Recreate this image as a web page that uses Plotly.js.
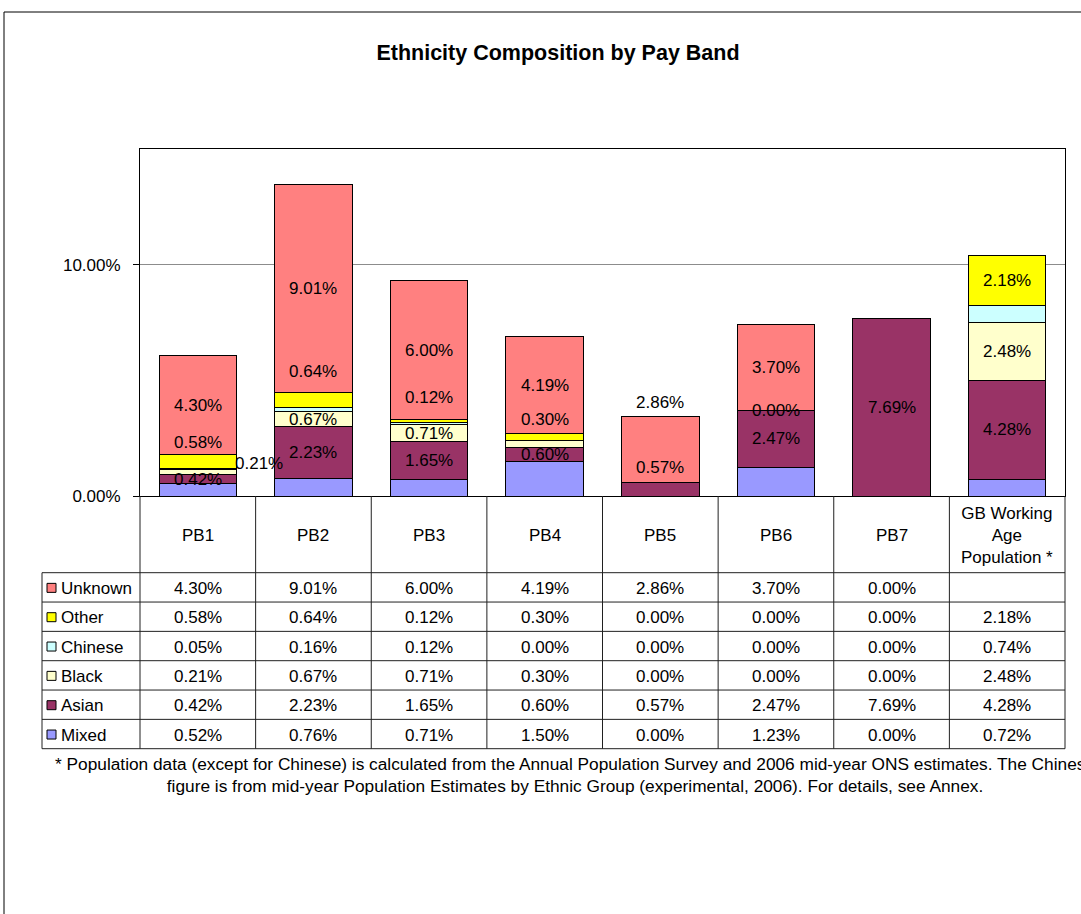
<!DOCTYPE html>
<html>
<head>
<meta charset="utf-8">
<script src="https://cdn.plot.ly/plotly-3.0.1.min.js"></script>
<style>html,body{margin:0;padding:0;background:#fff}</style>
</head>
<body>
<div id="chart" style="width:1081px;height:914px"></div>
<script>
// ---- data ----
const categories = ['PB1', 'PB2', 'PB3', 'PB4', 'PB5', 'PB6', 'PB7', 'GB Working Age Population *'];
const headerLabels = ['PB1', 'PB2', 'PB3', 'PB4', 'PB5', 'PB6', 'PB7', 'GB Working<br>Age<br>Population *'];
const unknown = [0.0430, 0.0901, 0.0600, 0.0419, 0.0286, 0.0370, 0.0000, null];
const other   = [0.0058, 0.0064, 0.0012, 0.0030, 0.0000, 0.0000, 0.0000, 0.0218];
const chinese = [0.0005, 0.0016, 0.0012, 0.0000, 0.0000, 0.0000, 0.0000, 0.0074];
const black   = [0.0021, 0.0067, 0.0071, 0.0030, 0.0000, 0.0000, 0.0000, 0.0248];
const asian   = [0.0042, 0.0223, 0.0165, 0.0060, 0.0057, 0.0247, 0.0769, 0.0428];
const mixed   = [0.0052, 0.0076, 0.0071, 0.0150, 0.0000, 0.0123, 0.0000, 0.0072];
const titleText = 'Ethnicity Composition by Pay Band';
const footnote = '* Population data (except for Chinese) is calculated from the Annual Population Survey and 2006 mid-year ONS estimates. The Chinese<br>figure is from mid-year Population Estimates by Ethnic Group (experimental, 2006). For details, see Annex.';

// stacking order, bottom to top
const series = [
  {name: 'Mixed',   values: mixed,   color: '#9999FF'},
  {name: 'Asian',   values: asian,   color: '#993366'},
  {name: 'Black',   values: black,   color: '#FFFFCC'},
  {name: 'Chinese', values: chinese, color: '#CCFFFF'},
  {name: 'Other',   values: other,   color: '#FFFF00'},
  {name: 'Unknown', values: unknown, color: '#FF8080'}
];

// ---- geometry (pixels) ----
const W = 1081, H = 914;
const L = 140, R = 1065, T = 149, B = 496;
const px2x = p => (p - L) / (R - L);
const px2y = p => (B - p) / (B - T);
const FONT = 'Arial, "Liberation Sans", sans-serif';
const FS = 17;
const rowTop = 572.7, rowBottom = 748.7, tableLeft = 42;
const nRows = series.length;
const rowH = (rowBottom - rowTop) / nRows;

// data labels: which series carry labels, and nudges where labels avoid each other
const labelledSeries = ['Unknown', 'Other', 'Black', 'Asian'];
const forcedLabels = ['Other|PB6'];
const hiddenLabels = ['Black|PB4'];
const nudges = {
  'Other|PB1': [0, 19], 'Black|PB1': [61, 8], 'Other|PB2': [0, 29],
  'Other|PB3': [0, 23], 'Other|PB4': [0, 18], 'Unknown|PB5': [0, 47], 'Asian|PB5': [0, 22]
};

const pct = v => (v * 100).toFixed(2) + '%';

const traces = series.map(s => ({
  type: 'bar',
  name: s.name,
  x: categories,
  y: s.values,
  marker: {color: s.color, line: {color: '#000', width: 1}},
  hoverinfo: 'skip',
  showlegend: false
}));

const annotations = [];
const shapes = [];

// segment labels
const base = categories.map(() => 0);
series.forEach(s => {
  s.values.forEach((v, i) => {
    const key = s.name + '|' + categories[i];
    const val = v == null ? 0 : v;
    const show = v != null && labelledSeries.includes(s.name) &&
      ((val > 0 && !hiddenLabels.includes(key)) || forcedLabels.includes(key));
    if (show) {
      const n = nudges[key] || [0, 0];
      annotations.push({
        xref: 'x', yref: 'y', x: categories[i], y: base[i] + val / 2,
        text: pct(val), showarrow: false, xshift: n[0], yshift: n[1],
        font: {family: FONT, size: FS, color: '#000'}
      });
    }
    base[i] += val;
  });
});

// data table: header row with category names
categories.forEach((c, i) => {
  annotations.push({
    xref: 'x', yref: 'paper', x: c, y: px2y((B + rowTop) / 2 + 1),
    text: headerLabels[i], showarrow: false, yanchor: 'middle',
    font: {family: FONT, size: FS, color: '#000'}
  });
});

// data table: one row per series, top row is the top of the stack
const tableSeries = series.slice().reverse();
tableSeries.forEach((s, r) => {
  const cy = rowTop + rowH * (r + 0.5);
  // legend key
  shapes.push({
    type: 'rect', xref: 'paper', yref: 'paper',
    x0: px2x(47), x1: px2x(56), y0: px2y(cy - 4), y1: px2y(cy + 5),
    fillcolor: s.color, line: {color: '#000', width: 1}
  });
  annotations.push({
    xref: 'paper', yref: 'paper', x: px2x(59), y: px2y(cy + 1),
    xanchor: 'left', yanchor: 'middle', text: s.name, showarrow: false,
    font: {family: FONT, size: FS, color: '#000'}
  });
  s.values.forEach((v, i) => {
    if (v == null) return;
    annotations.push({
      xref: 'x', yref: 'paper', x: categories[i], y: px2y(cy + 1),
      yanchor: 'middle', text: pct(v), showarrow: false,
      font: {family: FONT, size: FS, color: '#000'}
    });
  });
});

// table grid
const gridLine = {color: '#202020', width: 1};
for (let k = 0; k <= categories.length; k++) {
  shapes.push({type: 'line', xref: 'paper', yref: 'paper',
    x0: k / categories.length, x1: k / categories.length,
    y0: px2y(B), y1: px2y(rowBottom), line: gridLine});
}
for (let r = 0; r <= nRows; r++) {
  const y = rowTop + rowH * r;
  shapes.push({type: 'line', xref: 'paper', yref: 'paper',
    x0: px2x(tableLeft), x1: 1, y0: px2y(y), y1: px2y(y), line: gridLine});
}
shapes.push({type: 'line', xref: 'paper', yref: 'paper',
  x0: px2x(tableLeft), x1: px2x(tableLeft), y0: px2y(rowTop), y1: px2y(rowBottom), line: gridLine});

// chart area frame
shapes.push({type: 'rect', xref: 'paper', yref: 'paper',
  x0: px2x(4), x1: px2x(W + 20), y0: px2y(12), y1: px2y(H + 20),
  line: {color: '#000', width: 1}, fillcolor: 'rgba(0,0,0,0)', layer: 'below'});

// footnote
annotations.push({
  xref: 'paper', yref: 'paper', x: px2x(575), y: px2y(775),
  xanchor: 'center', yanchor: 'middle', align: 'center', showarrow: false,
  text: footnote, font: {family: FONT, size: 17.3, color: '#000'}
});

const layout = {
  width: W, height: H,
  margin: {l: L, r: W - R, t: T, b: H - B, pad: 0},
  paper_bgcolor: '#fff', plot_bgcolor: '#fff',
  barmode: 'stack', bargap: 0.33,
  title: {
    text: '<b>' + titleText + '</b>',
    font: {family: FONT, size: 21.5, color: '#000'},
    xref: 'container', yref: 'container',
    x: 558 / W, xanchor: 'center', y: 1 - 52 / H, yanchor: 'middle'
  },
  xaxis: {
    type: 'category', range: [-0.5, categories.length - 0.5],
    showticklabels: false, ticks: '', showgrid: false, zeroline: false,
    showline: true, linecolor: '#000', linewidth: 1, mirror: true, fixedrange: true
  },
  yaxis: {
    range: [0, 0.15], dtick: 0.1, tick0: 0, tickformat: '.2%',
    ticks: 'outside', ticklen: 6, tickcolor: '#000', tickwidth: 1,
    ticklabelstandoff: 9,
    showgrid: true, gridcolor: '#8c8c8c', gridwidth: 1, zeroline: false,
    showline: true, linecolor: '#000', linewidth: 1, mirror: true,
    tickfont: {family: FONT, size: FS, color: '#000'}, fixedrange: true
  },
  annotations: annotations,
  shapes: shapes
};

Plotly.newPlot('chart', traces, layout, {staticPlot: true, displayModeBar: false});
</script>
</body>
</html>
